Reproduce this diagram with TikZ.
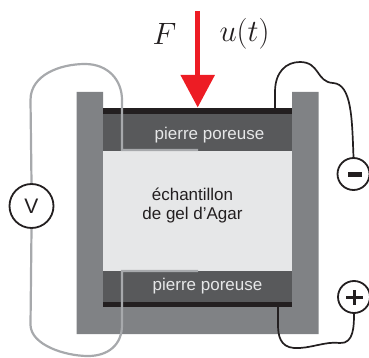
\documentclass[tikz,border=0pt]{standalone}
\usepackage{fontspec}
\setmainfont{Liberation Sans}
\usetikzlibrary{arrows.meta}
\definecolor{wallgray}{HTML}{808285}
\definecolor{stonegray}{HTML}{58595B}
\definecolor{gelgray}{HTML}{E6E7E8}
\definecolor{wiregray}{HTML}{A7A9AC}
\definecolor{inkblack}{HTML}{231F20}
\definecolor{forcered}{HTML}{ED1C24}
\newcommand{\bigmath}[1]{\scalebox{1.24}{\Huge$#1$}}

\begin{document}
\begin{tikzpicture}[
  x=1pt, y=-1pt,
  wall/.style={fill=wallgray},
  stone/.style={fill=stonegray},
  plate/.style={fill=inkblack},
  gel/.style={fill=gelgray},
  stonelbl/.style={font=\fontsize{17}{20}\selectfont, text=gelgray},
  gellbl/.style={font=\fontsize{17}{19}\selectfont, text=inkblack, align=center},
  mathlbl/.style={text=inkblack},
  probe/.style={circle, draw=inkblack, fill=white, line width=1.8pt, minimum size=32pt, inner sep=0pt},
  meter/.style={probe, minimum size=44pt, font=\fontsize{21}{24}\selectfont, text=inkblack},
  graywire/.style={draw=wiregray, line width=2.2pt},
  blackwire/.style={draw=inkblack, line width=1.7pt},
]
\useasboundingbox (0,0) rectangle (369,358);

% Cell body.
\fill[wall] (76.5,92) -- (103,92) -- (103,307) -- (292,307) -- (292,92)
  -- (318.5,92) -- (318.5,334) -- (76.5,334) -- cycle;
\fill[plate] (103,108) rectangle (292,114);
\fill[stone] (103,114) rectangle (292,151);
\fill[gel] (103,151) rectangle (292,271);
\fill[stone] (103,271) rectangle (292,302);
\fill[plate] (103,302) rectangle (292,307);

% Labels.
\node[stonelbl] (stonetop) at (209.5,135) {pierre poreuse};
\node[stonelbl] (stonebot) at (207.5,286) {pierre poreuse};
\node[gellbl] (sample) at (192.5,206) {échantillon\\de gel d’Agar};
\node[mathlbl] (force) at (164.5,34) {\bigmath{F}};
\node[mathlbl] (disp) at (244.5,34) {\bigmath{u(t)}};

% Electrodes and voltmeter.
\node[meter] (volt) at (31.5,206) {V};
\node[probe] (minus) at (353.5,174) {};
\node[probe] (plus) at (354,297) {};
\fill[inkblack] (348,172) rectangle (362,177);
\fill[inkblack] (346,295.5) rectangle (362.5,298.5);
\fill[inkblack] (353,289.5) rectangle (356,305);

\coordinate (topend) at (198,150);
\coordinate (botend) at (198,271);
\coordinate (platetop) at (275,108);
\coordinate (platebot) at (278,307);

% Gray wires.
\draw[graywire] (volt.north) -- (30.5,100)
  .. controls (30.5,75) and (60,64) .. (85,64)
  .. controls (108,64) and (122,80) .. (122,100)
  -- (122,150) -- (topend);
\draw[graywire] (volt.south) -- (30.5,325)
  .. controls (31,345) and (65,356) .. (88,356)
  .. controls (108,356) and (122,345) .. (122,325)
  -- (122,271) -- (botend);

% Black wires.
\draw[blackwire] (platetop) -- (275,92)
  .. controls (275,72) and (286,62) .. (300,62)
  .. controls (320,62) and (316,82) .. (333,83)
  .. controls (352,84) and (352,120) .. (minus.north);
\draw[blackwire] (plus.south) .. controls (354,325) and (354,344) .. (340,343)
  .. controls (325,341) and (310,349) .. (294,348)
  .. controls (280,347) and (278,335) .. (278,325) -- (platebot);

% Force arrow.
\coordinate (arrowtop) at (197.7,11);
\coordinate (arrowtip) at (197.7,107.5);
\draw[forcered, line width=5.4pt, -{Triangle[length=32.5pt,width=33pt]}] (arrowtop) -- (arrowtip);
\end{tikzpicture}
\end{document}
